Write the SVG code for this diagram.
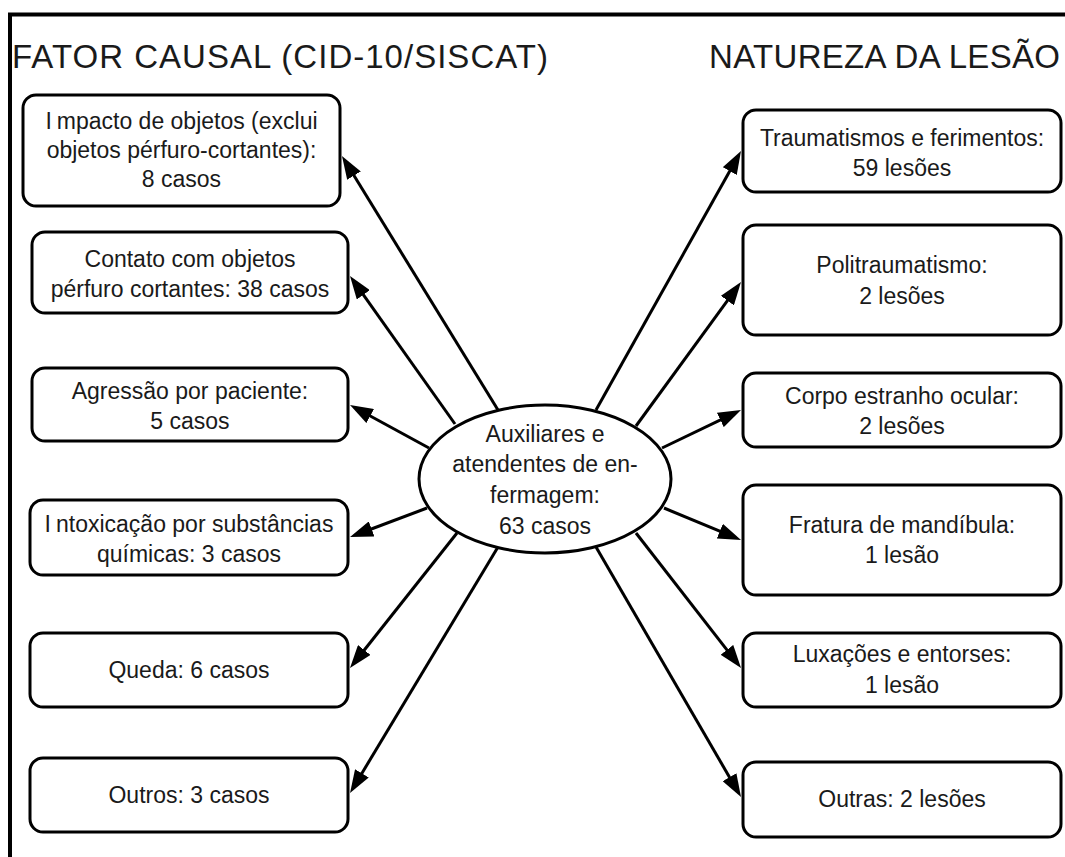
<svg xmlns="http://www.w3.org/2000/svg" width="1065" height="857" viewBox="0 0 1065 857">
<defs>
<style>
.box{fill:#fff;stroke:#000;stroke-width:3}
.t{font-family:"Liberation Sans",Arial,sans-serif;font-size:23px;fill:#1a1a1a;text-anchor:middle}
.title{font-family:"Liberation Sans",Arial,sans-serif;font-size:33px;fill:#1a1a1a}
.edge{fill:none;stroke:#000;stroke-width:3}
</style>
<marker id="ah" viewBox="0 0 23 16" markerWidth="23" markerHeight="16" refX="13" refY="8" orient="auto" markerUnits="userSpaceOnUse">
<path d="M0,0 L23,8 L0,16 z" fill="#000"/>
</marker>
</defs>
<rect width="1065" height="857" fill="#fff"/>
<path d="M10,857 V14.5 H1065" fill="none" stroke="#000" stroke-width="4"/>
<text class="title" x="12" y="68" textLength="536" lengthAdjust="spacing">FATOR CAUSAL (CID-10/SISCAT)</text>
<text class="title" x="709" y="68" textLength="351" lengthAdjust="spacing">NATUREZA DA LESÃO</text>

<g id="connectors">
<path class="edge" marker-end="url(#ah)" d="M498,410 L347.2,164.5"/>
<path class="edge" marker-end="url(#ah)" d="M455,424 L355.8,284.2"/>
<path class="edge" marker-end="url(#ah)" d="M429,448 L358.8,409.8"/>
<path class="edge" marker-end="url(#ah)" d="M427,508 L359.4,533.5"/>
<path class="edge" marker-end="url(#ah)" d="M457,533 L356.2,660.2"/>
<path class="edge" marker-end="url(#ah)" d="M498,547 L355.2,784.4"/>
<path class="edge" marker-end="url(#ah)" d="M596,410 L736.1,159.7"/>
<path class="edge" marker-end="url(#ah)" d="M636,426 L735.1,290.1"/>
<path class="edge" marker-end="url(#ah)" d="M662,448 L732,414.3"/>
<path class="edge" marker-end="url(#ah)" d="M664,508 L731.8,536.2"/>
<path class="edge" marker-end="url(#ah)" d="M636,533 L734.9,660.1"/>
<path class="edge" marker-end="url(#ah)" d="M596,547 L736,788.4"/>
</g>

<g id="center">
<ellipse class="box" cx="545" cy="479" rx="126" ry="74"/>
<text class="t" x="545" y="442">Auxiliares e</text>
<text class="t" x="545" y="472">atendentes de en-</text>
<text class="t" x="545" y="503">fermagem:</text>
<text class="t" x="545" y="534">63 casos</text>
</g>

<g id="impacto">
<rect class="box" x="23" y="95" width="317" height="111" rx="13"/>
<text class="t" x="181.5" y="129"><tspan>I</tspan><tspan dx="5">mpacto de objetos (exclui</tspan></text>
<text class="t" x="181.5" y="158">objetos pérfuro-cortantes):</text>
<text class="t" x="181.5" y="187">8 casos</text>
</g>
<g id="contato">
<rect class="box" x="32" y="232" width="316" height="81" rx="13"/>
<text class="t" x="190" y="267">Contato com objetos</text>
<text class="t" x="190" y="297">pérfuro cortantes: 38 casos</text>
</g>
<g id="agressao">
<rect class="box" x="32" y="368" width="316" height="73" rx="13"/>
<text class="t" x="190" y="399">Agressão por paciente:</text>
<text class="t" x="190" y="429">5 casos</text>
</g>
<g id="intoxicacao">
<rect class="box" x="30" y="500" width="318" height="75" rx="13"/>
<text class="t" x="189" y="532"><tspan>I</tspan><tspan dx="5">ntoxicação por substâncias</tspan></text>
<text class="t" x="189" y="562">químicas: 3 casos</text>
</g>
<g id="queda">
<rect class="box" x="30" y="633" width="318" height="74" rx="13"/>
<text class="t" x="189" y="678">Queda: 6 casos</text>
</g>
<g id="outros">
<rect class="box" x="30" y="758" width="318" height="74" rx="13"/>
<text class="t" x="189" y="803">Outros: 3 casos</text>
</g>

<g id="traumatismos">
<rect class="box" x="743" y="110" width="318" height="82" rx="13"/>
<text class="t" x="902" y="146">Traumatismos e ferimentos:</text>
<text class="t" x="902" y="176">59 lesões</text>
</g>
<g id="politraumatismo">
<rect class="box" x="743" y="225" width="318" height="110" rx="13"/>
<text class="t" x="902" y="273">Politraumatismo:</text>
<text class="t" x="902" y="304">2 lesões</text>
</g>
<g id="corpo-estranho">
<rect class="box" x="743" y="373" width="318" height="74" rx="13"/>
<text class="t" x="902" y="404">Corpo estranho ocular:</text>
<text class="t" x="902" y="434">2 lesões</text>
</g>
<g id="fratura">
<rect class="box" x="743" y="485" width="318" height="110" rx="13"/>
<text class="t" x="902" y="533">Fratura de mandíbula:</text>
<text class="t" x="902" y="563">1 lesão</text>
</g>
<g id="luxacoes">
<rect class="box" x="743" y="633" width="318" height="74" rx="13"/>
<text class="t" x="902" y="662">Luxações e entorses:</text>
<text class="t" x="902" y="693">1 lesão</text>
</g>
<g id="outras">
<rect class="box" x="743" y="762" width="318" height="75" rx="13"/>
<text class="t" x="902" y="807">Outras: 2 lesões</text>
</g>
</svg>
